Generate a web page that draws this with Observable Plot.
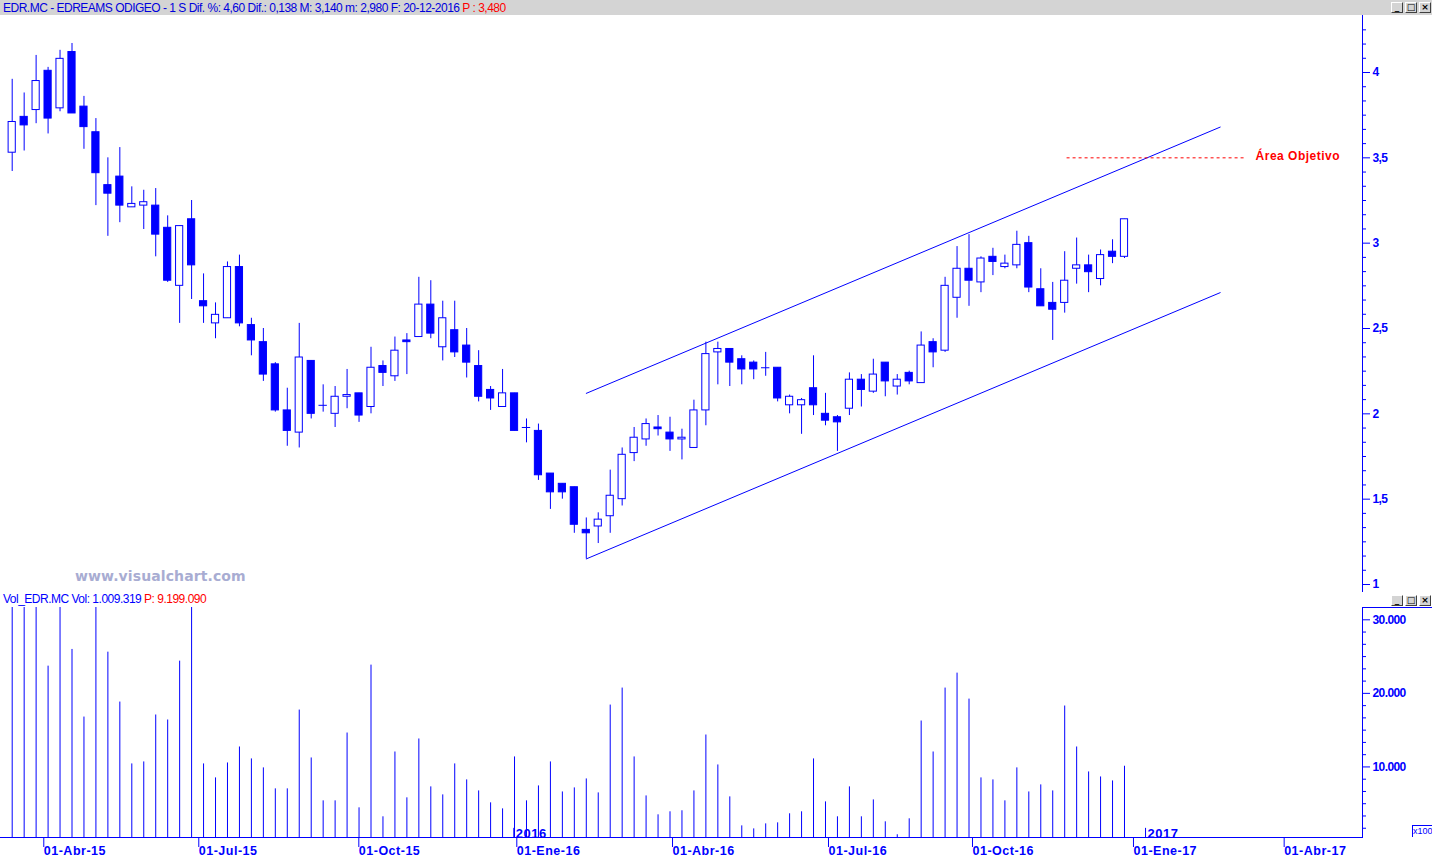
<!DOCTYPE html>
<html>
<head>
<meta charset="utf-8">
<script src="https://cdn.jsdelivr.net/npm/d3@7"></script>
<script src="https://cdn.jsdelivr.net/npm/@observablehq/plot@0.6"></script>
<style>
  body { margin: 0; background: #fff; }
  #root { position: relative; width: 1432px; height: 857px; overflow: hidden; background: #fff; font-family: "Liberation Sans", Arial, sans-serif; }
  .topbar { position: absolute; left: 0; top: 0; width: 1432px; height: 15px; background: #d4d4d4; }
  .hdr { position: absolute; left: 3px; white-space: pre; font-size: 12px; letter-spacing: -0.5px; color: #0000dd; }
  .red { color: #ff0000; }
  .btns { position: absolute; display: flex; gap: 2px; }
  .btn { width: 10px; height: 9px; background: #d4d4d4; border-top: 1px solid #fff; border-left: 1px solid #fff; border-right: 1px solid #404040; border-bottom: 1px solid #404040; font: bold 9px/9px "DejaVu Sans", sans-serif; color: #000; text-align: center; overflow: hidden; }
  .wm { position: absolute; left: 75px; top: 568px; font: bold 14px "DejaVu Sans", sans-serif; letter-spacing: 0.1px; color: #a8acd2; white-space: nowrap; }
  .cap { position: absolute; left: 1362px; top: 607px; width: 70px; height: 1px; background: #0000ff; }
  .x100 { position: absolute; left: 1412px; top: 825px; width: 19px; height: 11px; border: 1px solid #0000ff; border-right: none; border-bottom: none; font: 9px/11px "Liberation Sans", Arial, sans-serif; color: #0000ff; text-align: center; background: #fff; }
  g[aria-label="x-axis tick label"] text { letter-spacing: 0.5px; }
  g[aria-label="y-axis tick label"] text { letter-spacing: -0.6px; }
  g[aria-label="text"] text { letter-spacing: 0.5px; }
</style>
</head>
<body>
<div id="root">
  <div class="topbar"></div>
  <div class="hdr" style="top:1px;letter-spacing:-0.5px">EDR.MC - EDREAMS ODIGEO - 1 S Dif. %: 4,60 Dif.: 0,138 M: 3,140 m: 2,980 F: 20-12-2016 <span class="red">P : 3,480</span></div>
  <div class="btns" style="left:1391px;top:2px"><div class="btn">_</div><div class="btn">□</div><div class="btn">×</div></div>
  <div id="price" style="position:absolute;left:0;top:15px"></div>
  <div class="wm">www.visualchart.com</div>
  <div class="hdr" style="top:592px;left:3px;color:#0000ff">Vol_EDR.MC Vol: 1.009.319 <span class="red">P: 9.199.090</span></div>
  <div class="btns" style="left:1391px;top:595px"><div class="btn">_</div><div class="btn">□</div><div class="btn">×</div></div>
  <div id="volume" style="position:absolute;left:0;top:607px"></div>
  <div class="cap"></div>
  <div class="x100">x100</div>
</div>
<script>
// ---- Weekly data (index 0 = first weekly bar, last = week of 19-12-2016) ----
const opens = [
  3.53,3.74,3.78,4.01,3.79,4.12,3.80,3.65,3.34,3.39,
  3.21,3.22,3.22,3.09,2.75,3.14,2.66,2.53,2.56,2.86,
  2.52,2.42,2.29,2.02,1.89,2.31,2.05,2.00,2.10,2.12,
  2.04,2.28,2.22,2.43,2.45,2.64,2.39,2.49,2.40,2.28,
  2.14,2.04,2.12,1.92,1.90,1.65,1.59,1.57,1.32,1.34,
  1.40,1.50,1.77,1.85,1.92,1.89,1.85,1.80,2.02,2.36,
  2.38,2.32,2.30,2.27,2.27,2.05,2.05,2.15,2.00,1.98,
  2.03,2.20,2.13,2.30,2.16,2.24,2.18,2.42,2.37,2.68,
  2.85,2.77,2.92,2.86,2.87,3.00,2.73,2.65,2.65,2.85,
  2.87,2.79,2.95,2.92
];
const highs = [
  3.96,3.88,4.10,4.03,4.13,4.17,3.86,3.73,3.50,3.56,
  3.33,3.31,3.32,3.16,3.10,3.25,2.82,2.65,2.89,2.93,
  2.56,2.50,2.30,2.15,2.53,2.31,2.17,2.16,2.26,2.12,
  2.39,2.31,2.45,2.47,2.80,2.78,2.66,2.66,2.50,2.37,
  2.16,2.26,2.12,1.97,1.94,1.65,1.59,1.57,1.39,1.42,
  1.67,1.80,1.92,1.97,1.99,1.98,1.91,2.08,2.42,2.42,
  2.38,2.34,2.31,2.36,2.27,2.11,2.09,2.34,2.12,1.99,
  2.24,2.23,2.32,2.30,2.23,2.25,2.48,2.44,2.80,2.98,
  3.05,2.92,2.97,2.93,3.07,3.04,2.85,2.77,2.95,3.03,
  2.93,2.96,3.02,3.14
];
const lows = [
  3.42,3.54,3.70,3.64,3.77,3.76,3.55,3.22,3.04,3.12,
  3.21,3.08,2.92,2.77,2.53,2.67,2.53,2.44,2.56,2.51,
  2.34,2.19,2.01,1.81,1.80,1.97,2.01,1.92,2.03,1.95,
  2.00,2.16,2.19,2.23,2.45,2.44,2.31,2.33,2.21,2.07,
  2.02,2.04,1.90,1.83,1.61,1.44,1.50,1.30,1.15,1.24,
  1.30,1.46,1.72,1.81,1.87,1.78,1.73,1.80,1.93,2.17,
  2.16,2.17,2.20,2.22,2.07,2.00,1.88,1.99,1.93,1.78,
  1.99,2.04,2.12,2.10,2.11,2.17,2.18,2.27,2.36,2.56,
  2.63,2.71,2.81,2.85,2.85,2.71,2.63,2.43,2.59,2.76,
  2.71,2.75,2.88,2.91
];
const closes = [
  3.71,3.69,3.95,3.73,4.08,3.76,3.68,3.41,3.29,3.22,
  3.23,3.24,3.05,2.78,3.10,2.87,2.63,2.58,2.86,2.53,
  2.43,2.23,2.02,1.90,2.33,2.00,2.05,2.10,2.11,1.99,
  2.27,2.24,2.37,2.42,2.64,2.47,2.56,2.36,2.30,2.10,
  2.09,2.12,1.90,1.92,1.64,1.54,1.54,1.35,1.30,1.38,
  1.52,1.76,1.86,1.94,1.91,1.85,1.86,2.02,2.35,2.38,
  2.30,2.26,2.26,2.27,2.09,2.10,2.08,2.05,1.96,1.95,
  2.20,2.14,2.23,2.19,2.20,2.19,2.40,2.36,2.75,2.85,
  2.78,2.91,2.89,2.88,2.99,2.74,2.63,2.61,2.78,2.87,
  2.83,2.93,2.92,3.14
];
// volume in units of x100 shares
const volumes = [
  36000,41000,38000,23700,34000,25970,16780,45000,25600,18820,
  10410,10680,17060,16380,24380,33000,10410,8510,10540,12710,
  11090,9870,7020,7020,17730,11220,5390,5390,14610,4440,
  23840,3220,12030,5800,13800,7290,6200,10410,8240,6740,
  5120,4300,11360,5390,7420,10680,6600,7150,8370,6470,
  18410,20720,11360,6060,3490,3900,4040,6740,14340,10270,
  5930,1990,1580,2260,2400,3630,3900,11090,5250,3220,
  7290,3220,5520,2540,780,2950,16240,12030,20720,22750,
  19220,8510,8240,5390,9870,6600,7560,6740,18280,12710,
  9320,8640,8100,10093
];
// channel (trend lines) drawn on the chart: [bar index, price]
const channelUpper = [[48, 2.12], [101, 3.68]];
const channelLower = [[48, 1.15], [101, 2.71]];
// target area
const targetLevel = 3.5;
const targetFrom = 88.2, targetTo = 103.0, targetLabelAt = 103.96;
const targetLabel = "Área Objetivo";
// axis ticks
const priceTicks = [1, 1.5, 2, 2.5, 3, 3.5, 4];
const volumeTicks = [10000, 20000, 30000];
const quarterTicks = [2.39, 15.35, 28.73, 41.94, 54.96, 68.0, 80.04, 93.5, 106.1];
const quarterLabels = ["01-Abr-15","01-Jul-15","01-Oct-15","01-Ene-16","01-Abr-16","01-Jul-16","01-Oct-16","01-Ene-17","01-Abr-17"];
const yearMarks = [{i: 41.94, label: "2016"}, {i: 94.76, label: "2017"}];

// ---- build ----
const blue = "#0000ff";
const candles = opens.map((o, i) => ({i, open: o, high: highs[i], low: lows[i], close: closes[i]}));
const up = candles.filter(d => d.close > d.open);
const down = candles.filter(d => d.close < d.open);
const doji = candles.filter(d => d.close === d.open);
const vol = volumes.map((v, i) => ({i, v}));
const toPts = a => a.map(([i, v]) => ({i, v}));
const minorPrice = d3.range(1, 4.26, 1 / 12).filter(v => Math.abs(v * 2 - Math.round(v * 2)) > 1e-6);
const minorVol = d3.range(1, 18).map(k => k * 10000 / 6).filter(v => Math.abs(v % 10000) > 1 && Math.abs(v % 10000 - 10000) > 1);
const labelMap = new Map(quarterTicks.map((t, k) => [t, quarterLabels[k]]));
const fmtPrice = d => String(d).replace(".", ",");
const fmtVol = d => d3.format(",")(d).replace(/,/g, ".");
const font = "Liberation Sans, Arial, sans-serif";
const xScale = {domain: [0, 112.9], range: [11.7, 1362]};
const bw = 0.3;

const price = Plot.plot({
  width: 1432, height: 576,
  marginLeft: 0, marginRight: 70, marginTop: 0, marginBottom: 0,
  style: {background: "transparent", color: blue, fontFamily: font, overflow: "visible"},
  x: {...xScale, axis: null},
  y: {domain: [1, 4], range: [569, 57], label: null},
  marks: [
    Plot.frame({anchor: "right", stroke: blue}),
    Plot.axisY({anchor: "right", ticks: minorPrice, tickSize: 3, tickFormat: () => "", label: null}),
    Plot.axisY({anchor: "right", ticks: priceTicks, tickSize: 7, tickPadding: 3, tickFormat: fmtPrice,
      fontWeight: "bold", fontSize: 12, textAnchor: "start", label: null}),
    Plot.ruleX(candles, {x: "i", y1: "low", y2: "high", stroke: blue, strokeWidth: 1}),
    Plot.rect(up, {x1: d => d.i - bw, x2: d => d.i + bw, y1: "open", y2: "close", fill: "white", stroke: blue, strokeWidth: 1}),
    Plot.rect(down, {x1: d => d.i - bw, x2: d => d.i + bw, y1: "open", y2: "close", fill: blue, stroke: blue, strokeWidth: 1}),
    Plot.ruleY(doji, {y: "close", x1: d => d.i - bw - 0.05, x2: d => d.i + bw + 0.05, stroke: blue, strokeWidth: 1}),
    Plot.line(toPts(channelUpper), {x: "i", y: "v", stroke: blue, strokeWidth: 1}),
    Plot.line(toPts(channelLower), {x: "i", y: "v", stroke: blue, strokeWidth: 1}),
    Plot.ruleY([targetLevel], {x1: targetFrom, x2: targetTo, stroke: "#ff0000", strokeWidth: 1, strokeDasharray: "3,3"}),
    Plot.text([targetLevel], {x: targetLabelAt, y: d => d, text: () => targetLabel, fill: "#ff0000",
      fontWeight: "bold", fontSize: 12, textAnchor: "start", dy: -2})
  ]
});
document.getElementById("price").appendChild(price);

const volume = Plot.plot({
  width: 1432, height: 250,
  marginLeft: 0, marginRight: 70, marginTop: 0, marginBottom: 20,
  style: {background: "transparent", color: blue, fontFamily: font, overflow: "visible"},
  x: {...xScale, label: null},
  y: {domain: [0, 30000], range: [233, 12.3], label: null},
  marks: [
    Plot.ruleX(vol, {x: "i", y1: 0, y2: "v", stroke: blue, strokeWidth: 1, clip: true}),
    Plot.ruleX(yearMarks, {x: "i", y1: 0, y2: 1650, stroke: blue, strokeWidth: 1, clip: true}),
    Plot.frame({anchor: "right", stroke: blue}),
    Plot.frame({anchor: "bottom", stroke: blue}),
    Plot.axisY({anchor: "right", ticks: minorVol, tickSize: 3, tickFormat: () => "", label: null}),
    Plot.axisY({anchor: "right", ticks: volumeTicks, tickSize: 7, tickPadding: 3, tickFormat: fmtVol,
      fontWeight: "bold", fontSize: 12, textAnchor: "start", label: null}),
    Plot.axisX({anchor: "bottom", ticks: quarterTicks, tickSize: 10, tickPadding: -1, tickFormat: d => labelMap.get(d),
      textAnchor: "start", dx: 3, fontWeight: "bold", fontSize: 12.5, label: null}),
    Plot.text(yearMarks, {x: "i", text: "label", frameAnchor: "bottom", lineAnchor: "bottom", dy: 0, dx: 2,
      textAnchor: "start", fontWeight: "bold", fontSize: 13, fill: blue})
  ]
});
document.getElementById("volume").appendChild(volume);
</script>
</body>
</html>
